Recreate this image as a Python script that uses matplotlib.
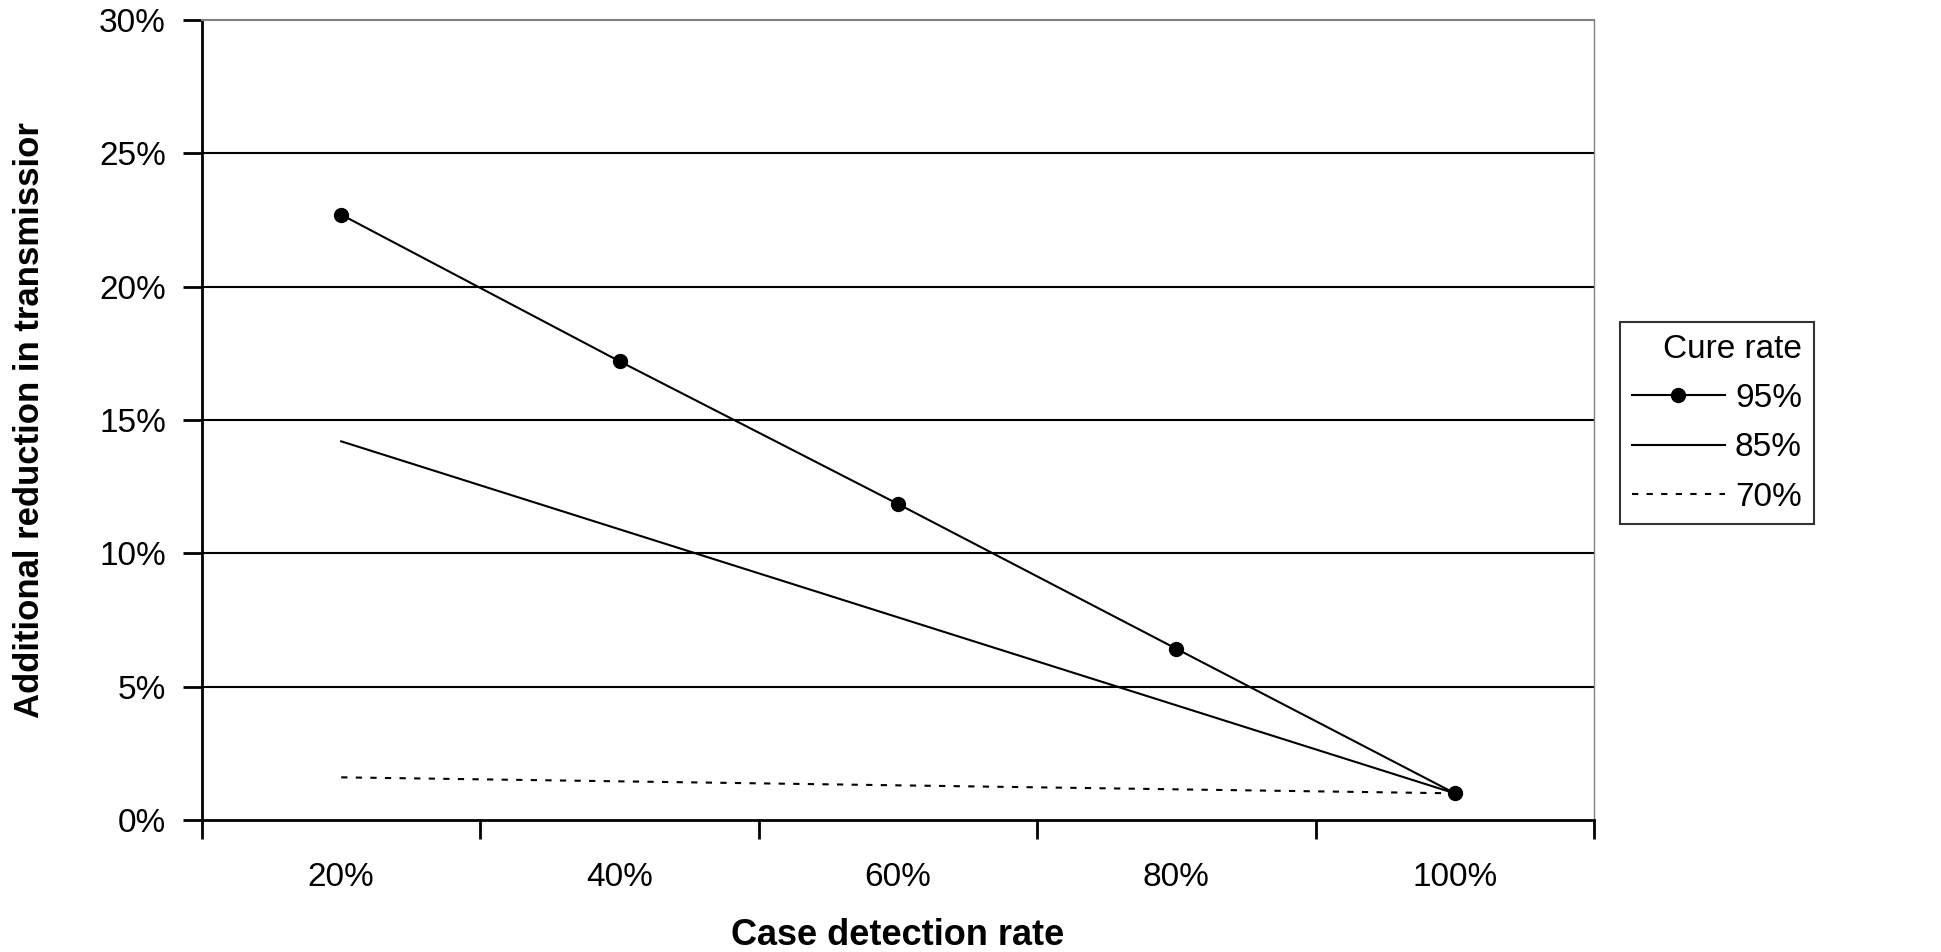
import matplotlib.pyplot as plt
import numpy as np

plt.rcParams['font.family'] = ['Liberation Sans', 'DejaVu Sans']

categories = ["20%", "40%", "60%", "80%", "100%"]
cure95 = [22.7, 17.2, 11.85, 6.42, 1.0]
cure85 = [14.2, 10.9, 7.6, 4.3, 1.0]
cure70 = [1.6, 1.45, 1.3, 1.15, 1.0]
yticks = [0, 5, 10, 15, 20, 25, 30]

fig = plt.figure(figsize=(19.41, 9.52), dpi=100)
ax = fig.add_axes([202/1941, 1 - 820/952, (1594-202)/1941, 800/952])

x = np.arange(len(categories))
ax.plot(x, cure95, color="black", lw=1.5, marker="o", ms=10, label="95%")
ax.plot(x, cure85, color="black", lw=1.5, label="85%")
ax.plot(x, cure70, color="black", lw=1.5, linestyle=(0, (3, 4)), label="70%")

ax.set_xlim(-0.5, len(categories) - 0.5)
ax.set_ylim(0, 30)
ax.set_yticks(yticks)
ax.set_yticklabels([f"{v}%" for v in yticks])
for v in yticks[1:-1]:
    ax.axhline(v, color="black", lw=1.5, zorder=0)

ax.set_xticks(x)
ax.set_xticklabels(categories)
ax.set_xticks(np.arange(len(categories) + 1) - 0.5, minor=True)
ax.tick_params(axis="x", which="major", length=0, pad=30, labelsize=24)
ax.tick_params(axis="x", which="minor", length=14, width=2)
ax.tick_params(axis="y", length=14, width=2, labelsize=24, pad=12)

ax.spines["left"].set_linewidth(2)
ax.spines["bottom"].set_linewidth(2)
ax.spines["top"].set_color("gray")
ax.spines["right"].set_color("gray")
ax.spines["top"].set_linewidth(1.5)
ax.spines["right"].set_linewidth(1)

ax.set_xlabel("Case detection rate", fontsize=26, fontweight="bold", labelpad=18)
ax.set_ylabel("Additional reduction in transmissior", fontsize=25, fontweight="bold")
ax.yaxis.set_label_coords(-156/1392, 0.50)

leg = ax.legend(title="Cure rate", loc="upper left", bbox_to_anchor=(1620/1941, 1 - 322/952),
                bbox_transform=fig.transFigure, fontsize=24, title_fontsize=24,
                frameon=True, fancybox=False, edgecolor="black", handlelength=2.8,
                handletextpad=0.3, borderpad=0.35, labelspacing=0.55, borderaxespad=0)
leg.get_frame().set_linewidth(1.5)
leg._legend_box.align = "right"

fig.savefig("out.png", dpi=100)
